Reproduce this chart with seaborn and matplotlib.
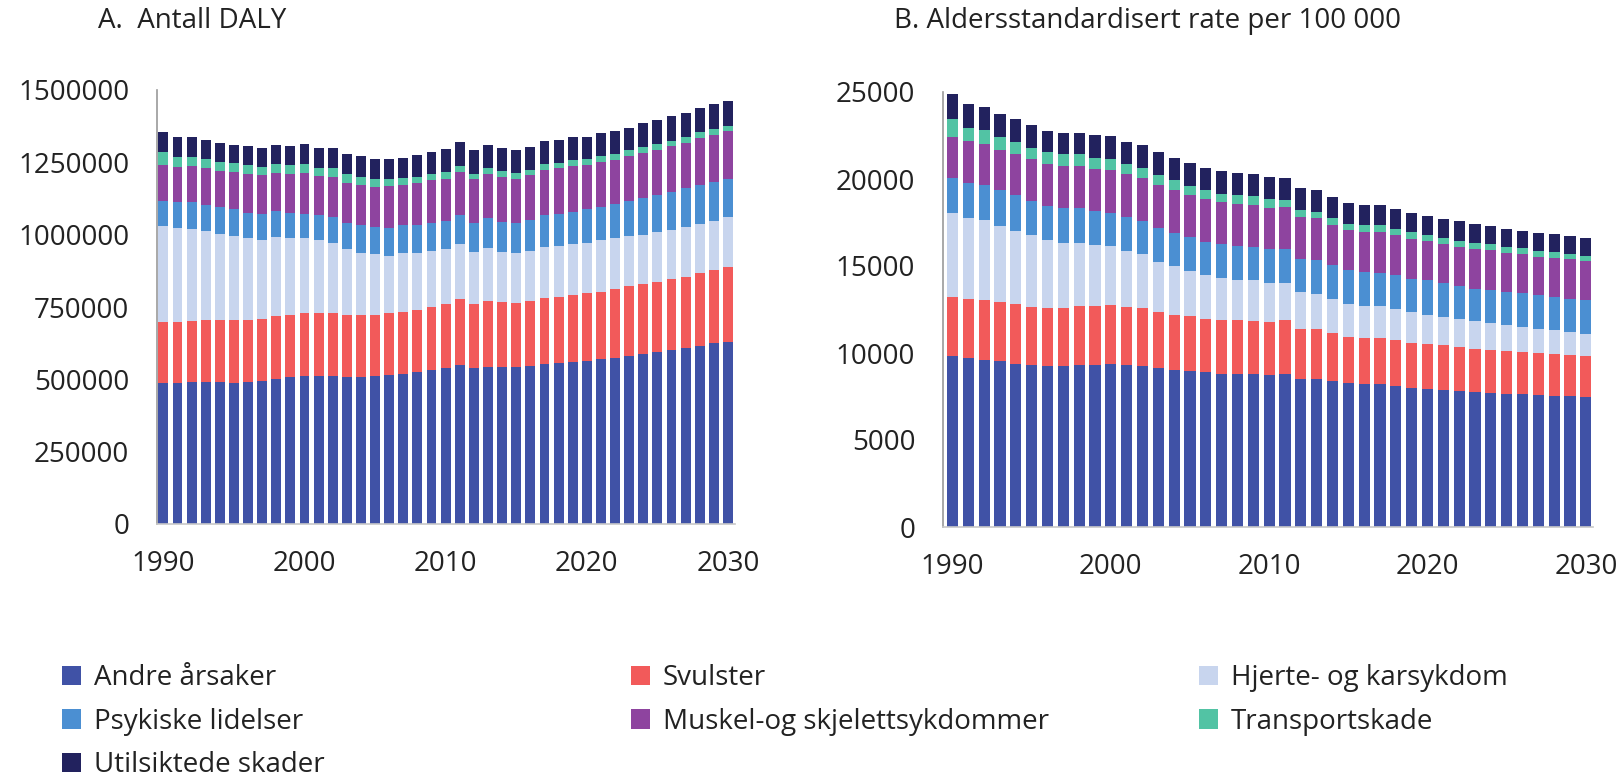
import numpy as np
import pandas as pd
import matplotlib
matplotlib.use("Agg")
import matplotlib.pyplot as plt
from matplotlib.patches import Patch
import seaborn as sns

years = list(range(1990, 2031))

categories = ["Andre årsaker", "Svulster", "Hjerte- og karsykdom", "Psykiske lidelser",
              "Muskel-og skjelettsykdommer", "Transportskade", "Utilsiktede skader"]
colors = ["#4052A6", "#F25A5A", "#C8D5EE", "#4B8FD2", "#8E449F", "#52C3A4", "#22225E"]

# Panel A: Antall DALY (thousands)
andre_A = [488, 488, 492, 492, 490, 488, 490, 495, 501, 507,
           511, 511, 511, 509, 509, 511, 515, 517, 526, 532,
           538, 550, 538, 544, 544, 544, 547, 553, 555, 559,
           564, 569, 575, 581, 588, 596, 601, 607, 616, 624, 630]
svulster_A = [209, 209, 211, 213, 215, 217, 215, 212, 219, 215,
              219, 219, 219, 215, 215, 213, 213, 214, 215, 219,
              221, 228, 221, 227, 222, 221, 223, 227, 230, 233,
              233, 234, 236, 240, 241, 242, 245, 248, 250, 253, 257]
hjerte_A = [333, 325, 317, 309, 297, 291, 282, 274, 271, 265,
            257, 251, 240, 225, 213, 209, 199, 204, 194, 192,
            190, 190, 182, 182, 175, 170, 174, 179, 176, 175,
            175, 179, 176, 173, 170, 170, 169, 173, 170, 169, 173]
psyk_A = [88, 92, 94, 89, 92, 91, 89, 92, 91, 89,
          86, 86, 92, 93, 96, 94, 97, 98, 98, 99,
          98, 100, 101, 104, 104, 106, 108, 109, 112, 111,
          115, 115, 119, 121, 127, 129, 132, 132, 135, 136, 131]
muskel_A = [123, 121, 123, 127, 127, 128, 134, 132, 132, 134,
            141, 136, 138, 138, 138, 138, 144, 138, 144, 146,
            147, 150, 152, 153, 156, 151, 153, 156, 156, 160,
            153, 153, 152, 156, 156, 156, 158, 158, 164, 164, 167]
transport_A = [46, 35, 30, 31, 31, 31, 31, 29, 30, 31,
               29, 29, 29, 29, 29, 28, 25, 25, 23, 23,
               23, 20, 17, 20, 20, 20, 20, 21, 20, 21,
               21, 21, 21, 20, 20, 20, 20, 20, 19, 19, 19]
utilsiktede_A = [67, 69, 71, 67, 66, 63, 67, 67, 66, 67,
                 70, 68, 69, 71, 71, 70, 67, 70, 75, 75,
                 78, 82, 81, 81, 78, 81, 78, 79, 78, 77,
                 78, 82, 81, 79, 84, 84, 84, 84, 83, 86, 84]

# Panel B: Aldersstandardisert rate per 100 000
andre_B = [9810, 9710, 9620, 9520, 9390, 9290, 9250, 9240, 9290, 9290,
           9350, 9290, 9240, 9160, 9040, 8970, 8910, 8810, 8810, 8810,
           8760, 8810, 8530, 8490, 8370, 8280, 8240, 8200, 8110, 8010,
           7950, 7890, 7820, 7760, 7720, 7660, 7630, 7570, 7530, 7510, 7470]
svulster_B = [3410, 3370, 3410, 3410, 3450, 3350, 3330, 3350, 3390, 3390,
              3390, 3350, 3320, 3200, 3160, 3160, 3070, 3070, 3070, 3030,
              3030, 3070, 2870, 2870, 2780, 2640, 2630, 2660, 2630, 2590,
              2550, 2550, 2530, 2490, 2470, 2450, 2430, 2430, 2400, 2360, 2360]
hjerte_B = [4830, 4690, 4600, 4390, 4180, 4120, 3890, 3740, 3640, 3550,
            3410, 3220, 3120, 2870, 2780, 2590, 2490, 2450, 2340, 2340,
            2240, 2170, 2110, 2050, 1940, 1880, 1840, 1840, 1780, 1760,
            1710, 1630, 1590, 1590, 1530, 1480, 1440, 1400, 1380, 1340, 1280]
psyk_B = [2030, 1990, 2010, 2030, 2050, 1970, 1970, 2010, 2010, 1920,
          1920, 1950, 1920, 1970, 1920, 1950, 1920, 1950, 1940, 1920,
          1920, 1950, 1880, 1920, 1950, 1950, 1920, 1920, 1950, 1920,
          1970, 1950, 1920, 1860, 1920, 1920, 1920, 1920, 1920, 1920, 1920]
muskel_B = [2340, 2400, 2360, 2340, 2360, 2430, 2430, 2410, 2410, 2450,
            2430, 2450, 2430, 2430, 2450, 2400, 2450, 2400, 2430, 2400,
            2400, 2400, 2400, 2400, 2340, 2300, 2340, 2340, 2300, 2300,
            2240, 2260, 2240, 2300, 2260, 2260, 2260, 2200, 2240, 2260, 2260]
transport_B = [1050, 790, 810, 730, 710, 650, 700, 670, 670, 630,
               670, 610, 630, 580, 610, 520, 520, 480, 480, 520,
               480, 380, 420, 380, 380, 380, 380, 380, 350, 350,
               350, 350, 350, 330, 350, 330, 330, 350, 310, 290, 290]
utilsiktede_B = [1400, 1340, 1300, 1300, 1280, 1280, 1210, 1250, 1250, 1280,
                 1280, 1280, 1280, 1340, 1250, 1340, 1280, 1280, 1280, 1250,
                 1270, 1300, 1250, 1280, 1210, 1190, 1150, 1150, 1150, 1130,
                 1110, 1090, 1130, 1070, 1040, 1050, 1020, 1040, 1040, 1040, 1040]

series_A = [np.array(s) * 1000 for s in
            [andre_A, svulster_A, hjerte_A, psyk_A, muskel_A, transport_A, utilsiktede_A]]
series_B = [andre_B, svulster_B, hjerte_B, psyk_B, muskel_B, transport_B, utilsiktede_B]


def long_df(series):
    rows = []
    for cat, vals in zip(categories, series):
        for y, v in zip(years, vals):
            rows.append({"year": y, "category": cat, "value": float(v)})
    return pd.DataFrame(rows)


sns.set_theme(style="white")
plt.rcParams["font.family"] = ["Open Sans", "DejaVu Sans"]
TXT = "#222222"

fig = plt.figure(figsize=(16.21, 7.79), dpi=100)
axA = fig.add_axes([157 / 1621, 1 - 524 / 779, 578 / 1621, 434 / 779])
axB = fig.add_axes([943 / 1621, 1 - 527 / 779, 650 / 1621, 435 / 779])

palette = dict(zip(categories, colors))
# seaborn stacks the first hue level on top, so reverse the order
hue_order = categories[::-1]

for ax, series, ymax, step, xlim in [
    (axA, series_A, 1500000, 250000, (1989.55, 2030.5)),
    (axB, series_B, 25000, 5000, (1989.4, 2030.45)),
]:
    df = long_df(series)
    sns.histplot(data=df, x="year", weights="value", hue="category",
                 hue_order=hue_order, palette=palette, multiple="stack",
                 discrete=True, shrink=0.7, alpha=1, linewidth=0,
                 edgecolor="none", legend=False, ax=ax)
    ax.set_xlim(*xlim)
    ax.set_ylim(0, ymax)
    ax.set_yticks(np.arange(0, ymax + 1, step))
    ax.set_yticklabels([f"{int(v)}" for v in np.arange(0, ymax + 1, step)])
    ax.set_xticks([1990, 2000, 2010, 2020, 2030])
    ax.set_xlabel("")
    ax.set_ylabel("")
    ax.tick_params(axis="both", length=0, labelsize=20, colors=TXT)
    ax.tick_params(axis="y", pad=20)
    ax.tick_params(axis="x", pad=19)
    for s in ["top", "right"]:
        ax.spines[s].set_visible(False)
    ax.spines["left"].set_color("#9a9a9a")
    ax.spines["left"].set_linewidth(1.2)
    ax.spines["bottom"].set_color("#c8c8c8")
    ax.spines["bottom"].set_linewidth(1.2)
    ax.grid(False)

fig.text(98 / 1621, 1 - 21 / 779, "A.  Antall DALY", fontsize=20, color=TXT,
         ha="left", va="center")
fig.text(894 / 1621, 1 - 21 / 779, "B. Aldersstandardisert rate per 100 000",
         fontsize=20, color=TXT, ha="left", va="center")

# Legend in three columns (row-major order as in the reference)
col_idx = [[0, 3, 6], [1, 4], [2, 5]]
col_x = [62 / 1621, 631 / 1621, 1199 / 1621]
for cx, idxs in zip(col_x, col_idx):
    handles = [Patch(facecolor=colors[i], edgecolor="none", label=categories[i]) for i in idxs]
    fig.legend(handles=handles, loc="upper left", bbox_to_anchor=(cx, 1 - 664 / 779),
               frameon=False, fontsize=20, handlelength=0.7, handleheight=0.7,
               handletextpad=0.45, labelspacing=0.56, borderaxespad=0, borderpad=0,
               labelcolor=TXT)

fig.savefig("out.png", dpi=100)
